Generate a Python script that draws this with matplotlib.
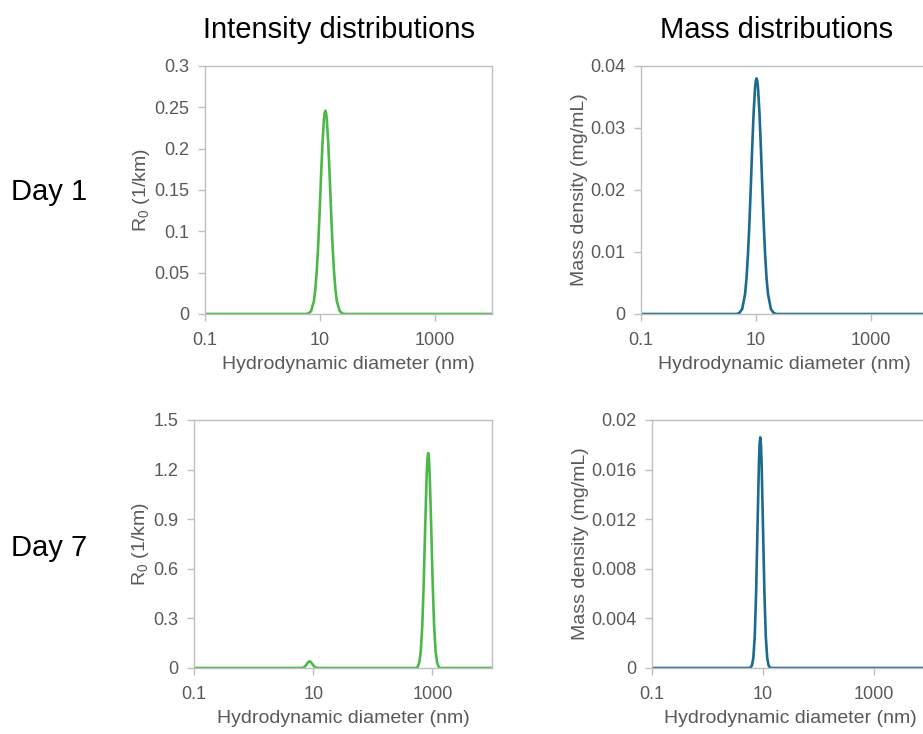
import matplotlib
matplotlib.use("Agg")
import matplotlib.pyplot as plt
from matplotlib.ticker import FixedLocator, FixedFormatter

plt.rcParams['font.family'] = ['Liberation Sans', 'DejaVu Sans']
plt.rcParams['mathtext.fontset'] = 'custom'
plt.rcParams['mathtext.rm'] = 'Liberation Sans'
plt.rcParams['mathtext.it'] = 'Liberation Sans:italic'

# ---- data ----
# Day 1, intensity distribution (R0, 1/km)
d1_int_x = [0.1, 5.6, 6.26, 7.03, 7.89, 8.35, 8.85, 9.37, 9.93, 10.51, 11.14, 11.80, 12.145, 12.5,
            12.865, 13.24, 14.03, 14.86, 15.74, 16.67, 17.66, 18.71, 19.81, 22.23, 24.94, 28.0, 10000]
d1_int_y = [0.0, 0.0, 0.0005, 0.0033, 0.0155, 0.030, 0.052, 0.083, 0.123, 0.167, 0.207, 0.236, 0.2433, 0.246,
            0.2433, 0.236, 0.207, 0.167, 0.123, 0.083, 0.052, 0.030, 0.0155, 0.0033, 0.0005, 0.0, 0.0]

# Day 1, mass distribution (mg/mL)
d1_mass_x = [0.1, 4.6, 5.16, 5.79, 6.50, 6.88, 7.29, 7.73, 8.18, 8.66, 9.18, 9.72, 10.008, 10.3,
             10.60, 10.91, 11.56, 12.25, 12.97, 13.74, 14.55, 15.41, 16.33, 18.32, 20.55, 23.0, 10000]
d1_mass_y = [0.0, 0.0, 0.00015, 0.0008, 0.0032, 0.0057, 0.0095, 0.0145, 0.0205, 0.0269, 0.0326, 0.0366, 0.03764, 0.038,
             0.03764, 0.0366, 0.0326, 0.0269, 0.0205, 0.0145, 0.0095, 0.0057, 0.0032, 0.0008, 0.00015, 0.0, 0.0]

# Day 7, intensity distribution (R0, 1/km)
d7_int_x = [0.1, 6.0, 6.52, 6.91, 7.32, 7.75, 8.21, 8.453, 8.7, 8.954, 9.22, 9.76, 10.35, 10.95, 11.60, 12.6,
            535.0, 568.0, 601.6, 637.4, 675.2, 715.2, 757.6, 802.6, 825.9, 850.0,
            874.8, 900.0, 953.7, 1010.7, 1070.0, 1134.0, 1201.0, 1272.0, 1350.0, 10000]
d7_int_y = [0.0, 0.0, 0.0008, 0.0034, 0.0100, 0.0216, 0.0343, 0.0385, 0.040, 0.0385, 0.0343, 0.0216, 0.0100, 0.0034, 0.0008, 0.0,
            0.0, 0.008, 0.032, 0.098, 0.249, 0.513, 0.860, 1.173, 1.267, 1.30,
            1.267, 1.173, 0.860, 0.513, 0.249, 0.098, 0.032, 0.008, 0.0, 0.0]

# Day 7, mass distribution (mg/mL)
d7_mass_x = [0.1, 5.7, 6.01, 6.37, 6.75, 7.15, 7.57, 8.02, 8.50, 8.745, 9.0,
             9.263, 9.53, 10.09, 10.70, 11.33, 12.00, 12.72, 13.47, 14.2, 10000]
d7_mass_y = [0.0, 0.0, 0.00004, 0.00021, 0.00082, 0.00252, 0.00604, 0.01128, 0.01641, 0.01803, 0.0186,
             0.01803, 0.01641, 0.01128, 0.00604, 0.00252, 0.00082, 0.00021, 0.00004, 0.0, 0.0]

x_ticks = [0.1, 10, 1000]
x_tick_labels = ["0.1", "10", "1000"]
int_d1_yticks = [0, 0.05, 0.1, 0.15, 0.2, 0.25, 0.3]
int_d1_ylabels = ["0", "0.05", "0.1", "0.15", "0.2", "0.25", "0.3"]
mass_d1_yticks = [0, 0.01, 0.02, 0.03, 0.04]
mass_d1_ylabels = ["0", "0.01", "0.02", "0.03", "0.04"]
int_d7_yticks = [0, 0.3, 0.6, 0.9, 1.2, 1.5]
int_d7_ylabels = ["0", "0.3", "0.6", "0.9", "1.2", "1.5"]
mass_d7_yticks = [0, 0.004, 0.008, 0.012, 0.016, 0.02]
mass_d7_ylabels = ["0", "0.004", "0.008", "0.012", "0.016", "0.02"]

col_titles = ["Intensity distributions", "Mass distributions"]
row_titles = ["Day 1", "Day 7"]
xlabel = "Hydrodynamic diameter (nm)"
ylabel_int = r"R$_{\mathit{0}}$ (1/km)"
ylabel_mass = "Mass density (mg/mL)"

GREEN = "#4DB848"
BLUE = "#1B6A8F"
GRID = "#BFBFBF"
TXT = "#595959"

W, H = 923, 734
fig = plt.figure(figsize=(W / 100, H / 100), dpi=100)


def px_axes(l, r, t, b):
    return fig.add_axes([l / W, 1 - b / H, (r - l) / W, (b - t) / H])


def style(ax, x, y, color, yticks, ylabels, ylab):
    ax.plot(x, y, color=color, lw=1.9, solid_joinstyle='round', solid_capstyle='round')
    ax.set_xscale('log')
    ax.set_xlim(0.1, 10000)
    ax.set_ylim(yticks[0], yticks[-1])
    ax.xaxis.set_major_locator(FixedLocator(x_ticks))
    ax.xaxis.set_major_formatter(FixedFormatter(x_tick_labels))
    ax.xaxis.set_minor_locator(FixedLocator([]))
    ax.set_yticks(yticks)
    ax.set_yticklabels(ylabels)
    for s in ax.spines.values():
        s.set_color(GRID)
        s.set_linewidth(1.0)
    ax.tick_params(axis='both', colors=GRID, labelcolor=TXT, labelsize=13,
                   length=5, width=1.0, direction='out')
    ax.tick_params(axis='x', pad=8)
    ax.tick_params(axis='y', pad=6)
    ax.set_xlabel(xlabel, fontsize=14, color=TXT, labelpad=5)
    ax.set_ylabel(ylab, fontsize=14, color=TXT, labelpad=2)


ax1 = px_axes(205, 492, 66, 314)
style(ax1, d1_int_x, d1_int_y, GREEN, int_d1_yticks, int_d1_ylabels, ylabel_int)
ax2 = px_axes(641, 928, 66, 314)
style(ax2, d1_mass_x, d1_mass_y, BLUE, mass_d1_yticks, mass_d1_ylabels, ylabel_mass)
ax3 = px_axes(194, 492, 420, 668)
style(ax3, d7_int_x, d7_int_y, GREEN, int_d7_yticks, int_d7_ylabels, ylabel_int)
ax4 = px_axes(652, 929, 420, 668)
style(ax4, d7_mass_x, d7_mass_y, BLUE, mass_d7_yticks, mass_d7_ylabels, ylabel_mass)

fig.text(339 / W, 1 - 30 / H, col_titles[0], fontsize=21, color='black', ha='center', va='center')
fig.text(777 / W, 1 - 30 / H, col_titles[1], fontsize=21, color='black', ha='center', va='center')
fig.text(49 / W, 1 - 192 / H, row_titles[0], fontsize=21, color='black', ha='center', va='center')
fig.text(49 / W, 1 - 548 / H, row_titles[1], fontsize=21, color='black', ha='center', va='center')

fig.savefig("out.png", dpi=100)
